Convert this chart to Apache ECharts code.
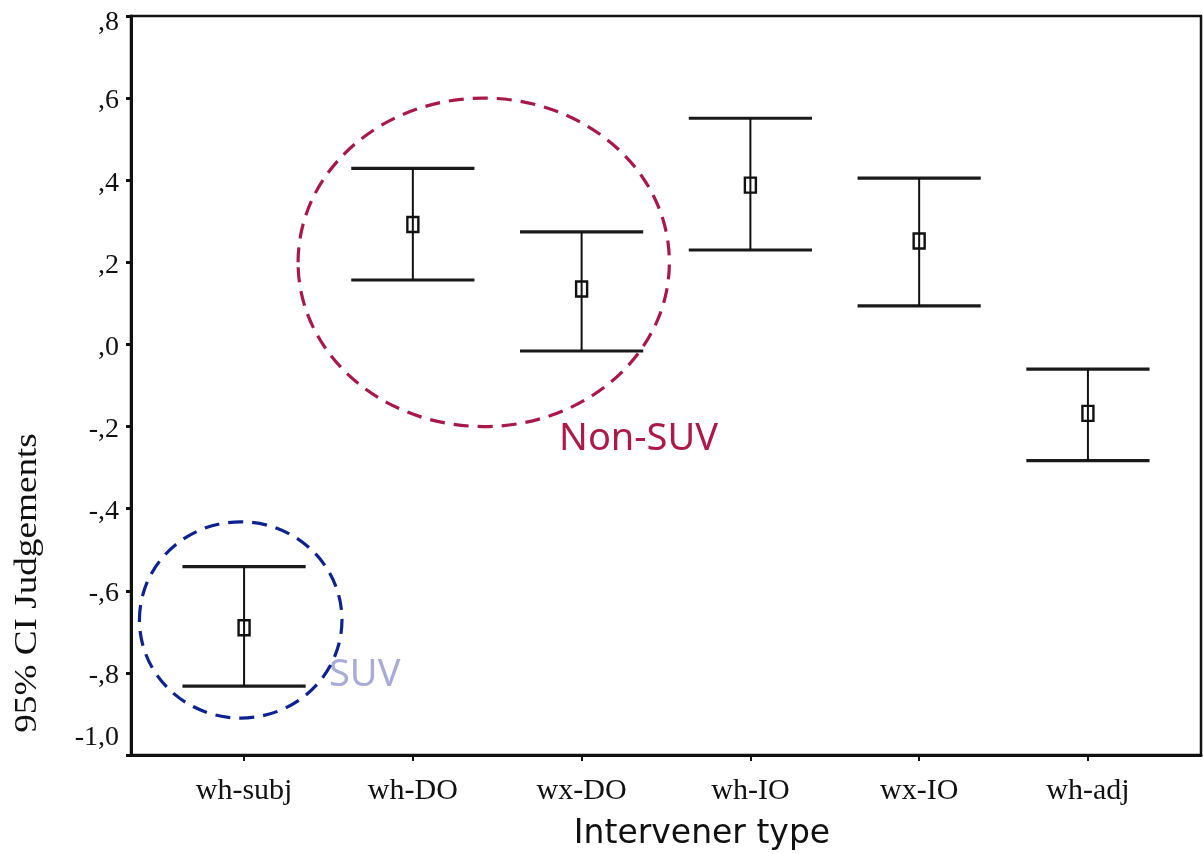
<!DOCTYPE html>
<html>
<head>
<meta charset="utf-8">
<script src="https://cdn.jsdelivr.net/npm/echarts@6/dist/echarts.min.js"></script>
<style>
html,body{margin:0;padding:0;background:#fff;}
#chart{width:1203px;height:854px;}
</style>
</head>
<body>
<div id="chart"></div>
<script>
// ---- data ----
var categories = ['wh-subj', 'wh-DO', 'wx-DO', 'wh-IO', 'wx-IO', 'wh-adj'];
var means = [-0.690, 0.292, 0.135, 0.388, 0.252, -0.168];
var lowerCI = [-0.832, 0.157, -0.016, 0.230, 0.094, -0.283];
var upperCI = [-0.541, 0.429, 0.274, 0.551, 0.405, -0.060];
var yTickValues = [-1.0, -0.8, -0.6, -0.4, -0.2, 0.0, 0.2, 0.4, 0.6, 0.8];
var yTickLabels = ['-1,0', '-,8', '-,6', '-,4', '-,2', ',0', ',2', ',4', ',6', ',8'];
// annotation ellipses: [centerX, centerY, radiusX, radiusY] in data units
var nonSuvEllipse = [2.42, 0.20, 1.10, 0.40];
var suvEllipse = [0.98, -0.671, 0.60, 0.239];
var nonSuvLabel = 'Non-SUV';
var suvLabel = 'SUV';
var xTitle = 'Intervener type';
var yTitle = '95% CI Judgements';

var positions = categories.map(function (c, i) { return i + 1; });
var errData = positions.map(function (p, i) { return [p, lowerCI[i], upperCI[i], means[i]]; });
var CAP_HALF = 0.365;

var chart = echarts.init(document.getElementById('chart'));

function yLabel(v) {
  for (var i = 0; i < yTickValues.length; i++) {
    if (Math.abs(yTickValues[i] - v) < 1e-6) {
      if (i === 0) return '{lo|' + yTickLabels[i] + '}';
      if (i === yTickValues.length - 1) return '{hi|' + yTickLabels[i] + '}';
      return '{n|' + yTickLabels[i] + '}';
    }
  }
  return '';
}

function ellipseItem(color) {
  return function (params, api) {
    var c = api.coord([api.value(0), api.value(1)]);
    var ex = api.coord([api.value(0) + api.value(2), api.value(1)]);
    var ey = api.coord([api.value(0), api.value(1) + api.value(3)]);
    return {
      type: 'ellipse',
      shape: { cx: c[0], cy: c[1], rx: Math.abs(ex[0] - c[0]), ry: Math.abs(ey[1] - c[1]) },
      style: { fill: null, stroke: color, lineWidth: 3.2, lineDash: [15, 9] },
      silent: true
    };
  };
}

var lblFont = { fontFamily: 'Liberation Serif', fontSize: 28, color: '#111' };

var option = {
  backgroundColor: '#ffffff',
  animation: false,
  grid: {
    left: 131, right: 2, top: 16, bottom: 99,
    show: true, borderColor: '#111', borderWidth: 2.5, backgroundColor: 'transparent'
  },
  xAxis: {
    type: 'value',
    min: 0.33, max: 6.67,
    splitLine: { show: false },
    axisLine: { show: true, onZero: false, lineStyle: { color: '#111', width: 3 } },
    axisTick: { show: true, customValues: positions, length: 6, lineStyle: { color: '#111', width: 2 } },
    axisLabel: {
      customValues: positions,
      formatter: function (v) { return categories[Math.round(v) - 1] || ''; },
      fontFamily: 'Liberation Serif', fontSize: 30, color: '#111', margin: 21
    }
  },
  yAxis: {
    type: 'value',
    min: -1.0, max: 0.8, interval: 0.2,
    splitLine: { show: false },
    axisLine: { show: true, onZero: false, lineStyle: { color: '#111', width: 3 } },
    axisTick: { show: true, length: 5, lineStyle: { color: '#111', width: 3 } },
    axisLabel: {
      formatter: yLabel,
      margin: 12,
      rich: {
        n: Object.assign({ padding: [6, 0, 0, 0] }, lblFont),
        lo: Object.assign({ padding: [0, 0, 34, 0] }, lblFont),
        hi: Object.assign({ padding: [14, 0, 0, 0] }, lblFont)
      }
    }
  },
  graphic: [
    {
      type: 'text', x: 28, y: 583, rotation: Math.PI / 2, scaleX: 1.2,
      style: { text: yTitle, font: '31px "Liberation Serif"', fill: '#111', textAlign: 'center', textVerticalAlign: 'middle' }
    },
    {
      type: 'text', x: 702, y: 834,
      style: { text: xTitle, font: '33px "DejaVu Sans"', fill: '#111', textAlign: 'center', textVerticalAlign: 'middle' }
    },
    {
      type: 'text', x: 559, y: 439,
      style: { text: nonSuvLabel, font: '38px "Noto Sans"', fill: '#ad1a48', textAlign: 'left', textVerticalAlign: 'middle' }
    },
    {
      type: 'text', x: 329, y: 675,
      style: { text: suvLabel, font: '38px "Noto Sans"', fill: '#a9abd9', textAlign: 'left', textVerticalAlign: 'middle' }
    }
  ],
  series: [
    {
      type: 'custom',
      name: 'ci',
      data: errData,
      z: 3,
      renderItem: function (params, api) {
        var x = api.value(0), lo = api.value(1), hi = api.value(2), m = api.value(3);
        var pHi = api.coord([x, hi]);
        var pLo = api.coord([x, lo]);
        var pM = api.coord([x, m]);
        var hiL = api.coord([x - CAP_HALF, hi]);
        var hiR = api.coord([x + CAP_HALF, hi]);
        var loL = api.coord([x - CAP_HALF, lo]);
        var loR = api.coord([x + CAP_HALF, lo]);
        var capStyle = { stroke: '#1a1a1a', lineWidth: 3.2 };
        return {
          type: 'group',
          children: [
            { type: 'line', shape: { x1: hiL[0], y1: hiL[1], x2: hiR[0], y2: hiR[1] }, style: capStyle },
            { type: 'line', shape: { x1: loL[0], y1: loL[1], x2: loR[0], y2: loR[1] }, style: capStyle },
            { type: 'rect', shape: { x: pM[0] - 5.5, y: pM[1] - 7.5, width: 11, height: 15 }, style: { fill: '#fff', stroke: '#111', lineWidth: 2.4 } },
            { type: 'line', shape: { x1: pHi[0], y1: pHi[1], x2: pLo[0], y2: pLo[1] }, style: { stroke: '#111', lineWidth: 2 } }
          ]
        };
      }
    },
    {
      type: 'custom',
      name: 'nonSuv',
      data: [nonSuvEllipse],
      z: 2,
      renderItem: ellipseItem('#a8184a')
    },
    {
      type: 'custom',
      name: 'suv',
      data: [suvEllipse],
      z: 2,
      renderItem: ellipseItem('#0d2290')
    }
  ]
};
chart.setOption(option);
</script>
</body>
</html>
